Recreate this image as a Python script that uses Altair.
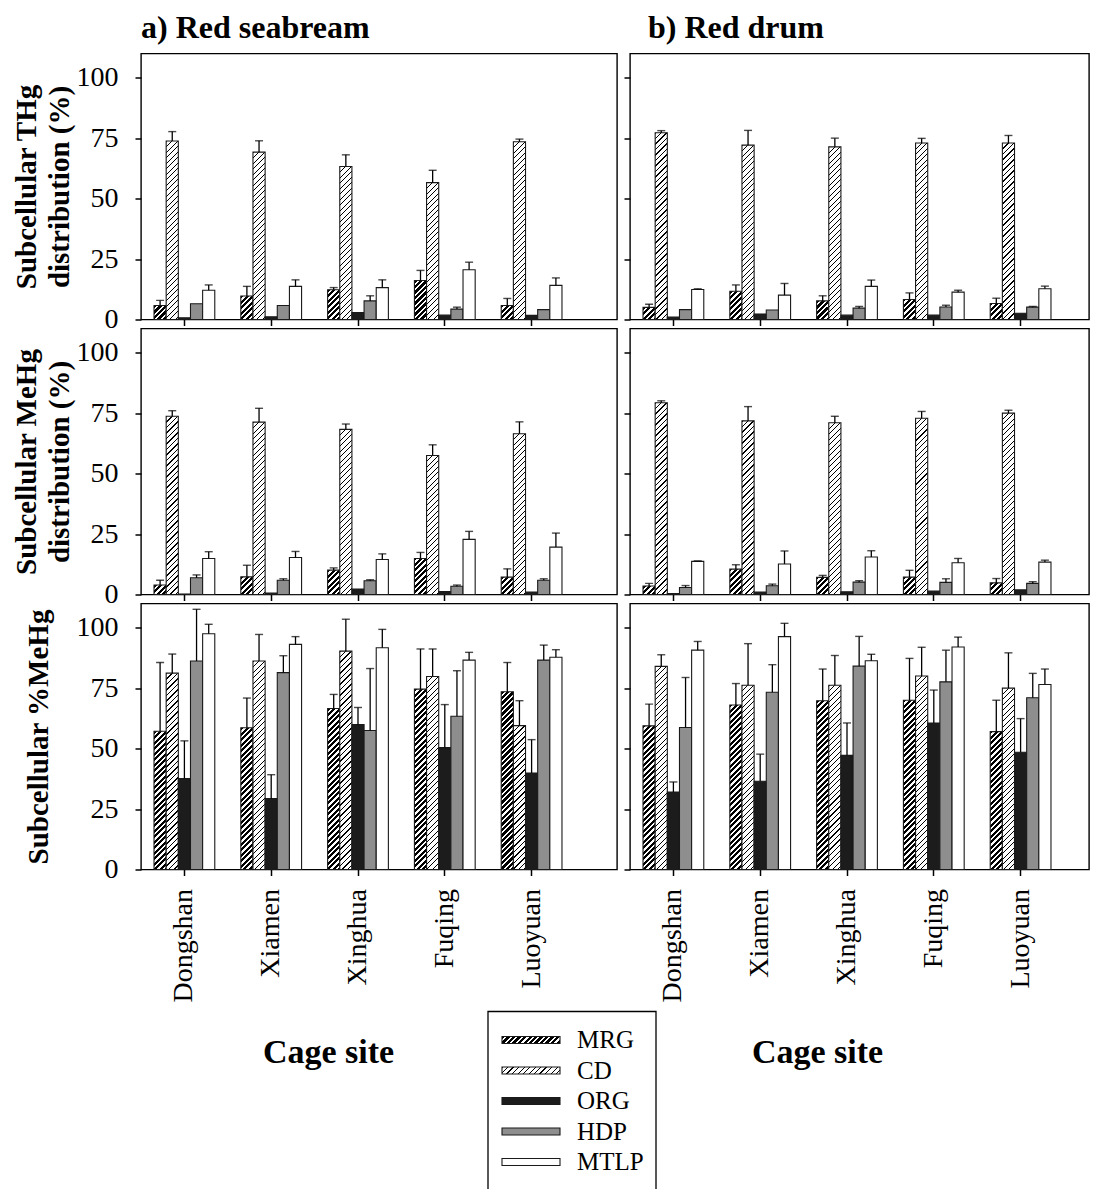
import altair as alt

SERIF = "Liberation Serif"

sites = ["Dongshan", "Xiamen", "Xinghua", "Fuqing", "Luoyuan"]
fractions = ["MRG", "CD", "ORG", "HDP", "MTLP"]

# a) Red seabream - subcellular THg distribution (%)
seabream_thg_mean = {
    "MRG": [5.8, 9.7, 12.3, 16.1, 5.8],
    "CD": [73.8, 69.2, 63.3, 56.6, 73.5],
    "ORG": [0.7, 1.1, 2.9, 1.8, 1.7],
    "HDP": [6.5, 5.8, 7.7, 4.3, 4.1],
    "MTLP": [12.1, 13.7, 13.2, 20.6, 14.1],
}
seabream_thg_sd = {
    "MRG": [2.1, 4.0, 0.9, 4.2, 2.9],
    "CD": [3.9, 4.7, 4.8, 5.1, 1.1],
    "ORG": [0, 0, 0, 0, 0],
    "HDP": [0, 0, 2.1, 0.8, 0],
    "MTLP": [2.2, 2.7, 3.2, 3.1, 3.1],
}
# b) Red drum - subcellular THg distribution (%)
drum_thg_mean = {
    "MRG": [5.0, 11.7, 7.7, 8.3, 6.6],
    "CD": [77.2, 72.1, 71.4, 73.0, 73.0],
    "ORG": [1.0, 2.3, 1.8, 1.8, 2.6],
    "HDP": [4.1, 3.9, 4.7, 5.2, 5.1],
    "MTLP": [12.4, 10.1, 13.7, 11.3, 12.7],
}
drum_thg_sd = {
    "MRG": [1.3, 2.6, 2.1, 2.7, 2.2],
    "CD": [0.9, 6.1, 3.6, 1.9, 3.1],
    "ORG": [0, 0, 0, 0, 0],
    "HDP": [0, 0, 0.7, 0.7, 0.3],
    "MTLP": [0.3, 4.8, 2.6, 0.8, 1.1],
}
# a) Red seabream - subcellular MeHg distribution (%)
seabream_mehg_mean = {
    "MRG": [3.9, 7.3, 10.1, 14.9, 7.2],
    "CD": [73.7, 71.3, 68.3, 57.5, 66.5],
    "ORG": [0.2, 0.6, 2.3, 1.2, 1.0],
    "HDP": [6.9, 5.9, 5.7, 3.4, 5.9],
    "MTLP": [14.9, 15.3, 14.5, 22.8, 19.6],
}
seabream_mehg_sd = {
    "MRG": [2.0, 4.8, 0.9, 2.5, 3.4],
    "CD": [2.3, 5.7, 2.2, 4.4, 4.9],
    "ORG": [0, 0, 0, 0, 0],
    "HDP": [1.2, 0.6, 0.4, 0.5, 0.6],
    "MTLP": [2.8, 2.5, 2.3, 3.3, 5.8],
}
# b) Red drum - subcellular MeHg distribution (%)
drum_mehg_mean = {
    "MRG": [3.5, 10.5, 7.1, 7.2, 4.8],
    "CD": [79.3, 71.8, 71.0, 72.9, 75.0],
    "ORG": [0.4, 1.0, 1.1, 1.4, 1.9],
    "HDP": [2.9, 3.6, 5.1, 5.0, 4.6],
    "MTLP": [13.7, 12.6, 15.5, 13.1, 13.4],
}
drum_mehg_sd = {
    "MRG": [1.1, 1.8, 0.8, 2.8, 1.8],
    "CD": [0.8, 5.9, 2.7, 2.8, 1.2],
    "ORG": [0, 0, 0, 0, 0],
    "HDP": [0.8, 0.7, 0.6, 1.5, 0.7],
    "MTLP": [0.2, 5.4, 2.6, 1.8, 0.8],
}
# a) Red seabream - subcellular %MeHg
seabream_pct_mean = {
    "MRG": [57.2, 58.6, 66.6, 74.6, 73.5],
    "CD": [81.2, 86.2, 90.3, 79.8, 59.5],
    "ORG": [37.6, 29.3, 59.9, 50.4, 39.9],
    "HDP": [86.2, 81.4, 57.5, 63.4, 86.6],
    "MTLP": [97.5, 93.1, 91.7, 86.6, 87.8],
}
seabream_pct_sd = {
    "MRG": [28.4, 12.3, 5.8, 16.6, 12.1],
    "CD": [7.9, 11.0, 13.2, 11.4, 10.3],
    "ORG": [15.6, 9.9, 7.1, 17.8, 13.8],
    "HDP": [21.4, 7.0, 25.6, 18.8, 6.2],
    "MTLP": [3.9, 3.2, 7.6, 3.2, 3.1],
}
# b) Red drum - subcellular %MeHg
drum_pct_mean = {
    "MRG": [59.4, 68.0, 69.8, 70.0, 57.0],
    "CD": [84.0, 76.2, 76.2, 80.0, 75.0],
    "ORG": [32.0, 36.5, 47.2, 60.6, 48.5],
    "HDP": [58.7, 73.3, 84.1, 77.6, 71.0],
    "MTLP": [90.7, 96.3, 86.3, 92.0, 76.5],
}
drum_pct_sd = {
    "MRG": [9.0, 8.9, 13.1, 17.3, 13.0],
    "CD": [4.8, 17.2, 12.3, 11.9, 14.6],
    "ORG": [4.2, 11.2, 13.4, 13.6, 13.9],
    "HDP": [20.7, 11.4, 12.3, 13.1, 10.1],
    "MTLP": [3.6, 5.5, 2.7, 4.1, 6.4],
}

# ---------------- layout / style ----------------
PANEL_H = 266
Y_MAX = 110
LEFT_W = 476
RIGHT_W = 459
STEP = 86.8
PAD_IN = 0.3
BAR_W = STEP * (1 - PAD_IN) / len(fractions)

SOLID = {"ORG": "#1c1c1c", "HDP": "#8e8e8e", "MTLP": "#ffffff"}
HATCH = {"MRG": (5.5, 0.55), "CD": (5.5, 0.22)}


def hatch(w, h, period, black):
    """diagonal '/' stripes as a striped linear gradient on the bar's box"""
    h = max(h, 0.3)
    L = w + h
    c = L / (w * w + h * h)
    stops = []
    s = 0.0
    while s < L:
        a = s / L
        b = min((s + period * black) / L, 1.0)
        e = min((s + period) / L, 1.0)
        stops += [
            {"offset": round(a, 4), "color": "#000000"},
            {"offset": round(b, 4), "color": "#000000"},
            {"offset": round(b, 4), "color": "#ffffff"},
            {"offset": round(e, 4), "color": "#ffffff"},
        ]
        s += period
    return {"gradient": "linear", "x1": 0, "y1": 0,
            "x2": round(w * c, 5), "y2": round(h * c, 5), "stops": stops}


def fill_for(frac, w, h):
    if frac in HATCH:
        return hatch(w, h, *HATCH[frac])
    return SOLID[frac]


def rows_for(means, sds):
    out = []
    for f in fractions:
        for s, v, e in zip(sites, means[f], sds[f]):
            out.append({"site": s, "fraction": f, "value": v, "sd": e,
                        "top": round(v + e, 2),
                        "grad": fill_for(f, BAR_W, v * PANEL_H / Y_MAX)})
    return out


def x_scale(width):
    n = len(sites)
    po = (width / STEP - (n - PAD_IN)) / 2
    outer = width - STEP * (n - PAD_IN)
    first = 0.5 * STEP - (1 - PAD_IN) / 2 * STEP
    return alt.Scale(paddingInner=PAD_IN, paddingOuter=po, align=first / outer)


def panel(means, sds, width, left, bottom, ytitle="", ytitle_x=0, title="", title_dx=0):
    base = alt.Chart(alt.Data(values=rows_for(means, sds)))
    if bottom:
        xaxis = alt.Axis(title="Cage site", labelAngle=-90, labelFont=SERIF, labelFontSize=28,
                         labelColor="#000", labelPadding=13, tickSize=6, tickWidth=1.5,
                         tickColor="#000", domain=False, titleFont=SERIF, titleFontSize=34,
                         titleFontWeight="bold", titleColor="#000", titleX=187, titleY=193,
                         titleBaseline="alphabetic")
    else:
        xaxis = alt.Axis(title="", labels=False, tickSize=6, tickWidth=1.5,
                         tickColor="#000", domain=False)
    if left:
        yaxis = alt.Axis(values=[0, 25, 50, 75, 100], title=ytitle, tickSize=6, tickWidth=1.5,
                         tickColor="#000", labelFont=SERIF, labelFontSize=28, labelColor="#000",
                         labelPadding=17, labelFlush=False, domain=False, grid=False,
                         titleFont=SERIF, titleFontSize=29, titleFontWeight="bold",
                         titleColor="#000", titleX=ytitle_x, titleBaseline="middle",
                         titleLineHeight=33)
    else:
        yaxis = alt.Axis(values=[0, 25, 50, 75, 100], title="", labels=False, tickSize=6,
                         tickWidth=1.5, tickColor="#000", domain=False, grid=False)
    X = alt.X("site:N", sort=sites, scale=x_scale(width), axis=xaxis)
    XO = alt.XOffset("fraction:N", sort=fractions,
                     scale=alt.Scale(paddingInner=0, paddingOuter=0))
    ys = alt.Scale(domain=[0, Y_MAX], nice=False, zero=True)
    bars = base.mark_bar(stroke="#1a1a1a", strokeWidth=1.1).encode(
        x=X, xOffset=XO,
        y=alt.Y("value:Q", scale=ys, axis=yaxis, stack=None),
        fill=alt.Fill("grad:N", scale=None),
    )
    errs = base.transform_filter("datum.sd > 0").mark_rule(color="#000", strokeWidth=1.3).encode(
        x=X, xOffset=XO,
        y=alt.Y("value:Q", scale=ys, axis=yaxis, stack=None),
        y2="top:Q",
    )
    caps = base.transform_filter("datum.sd > 0").mark_tick(color="#000", thickness=1.4, size=8).encode(
        x=X, xOffset=XO,
        y=alt.Y("top:Q", scale=ys, axis=yaxis, stack=None),
    )
    ch = alt.layer(bars, errs, caps).properties(width=width, height=PANEL_H)
    if title:
        ch = ch.properties(title=alt.TitleParams(
            title, anchor="start", frame="group", font=SERIF, fontSize=32,
            fontWeight="bold", color="#000", offset=-16.5, baseline="alphabetic", dx=title_dx))
    return ch


def spacer(w, h):
    return alt.Chart(alt.Data(values=[{"a": 1}])).mark_point(opacity=0).properties(
        width=w, height=h, view=alt.ViewBackground(strokeOpacity=0))


# legend box (drawn inside the left column, under the panels)
LEG_H = 185
BOX_X0, BOX_X1 = 347, 515
SW_X0, SW_X1, TXT_X = 361, 419, 436
LEG_STEP, LEG_FIRST, LEG_BAND = 30.5, 28.5, 7.0
leg_pi = 1 - LEG_BAND / LEG_STEP
leg_po = (LEG_H / LEG_STEP - (len(fractions) - leg_pi)) / 2
leg_outer = LEG_H - LEG_STEP * (len(fractions) - leg_pi)
leg_align = (LEG_FIRST - LEG_BAND / 2) / leg_outer
legend_rows = [{"fraction": f, "grad": fill_for(f, SW_X1 - SW_X0, LEG_BAND)} for f in fractions]
LY = alt.Y("fraction:N", sort=fractions, axis=None,
           scale=alt.Scale(paddingInner=leg_pi, paddingOuter=leg_po, align=leg_align))
leg_base = alt.Chart(alt.Data(values=legend_rows))
leg_box = alt.Chart(alt.Data(values=[{"a": 1}])).mark_rect(
    fillOpacity=0, stroke="#000", strokeWidth=1.3).encode(
    x=alt.value(BOX_X0), x2=alt.value(BOX_X1), y=alt.value(0), y2=alt.value(LEG_H))
leg_swatch = leg_base.mark_bar(stroke="#1a1a1a", strokeWidth=1.1).encode(
    y=LY, x=alt.value(SW_X0), x2=alt.value(SW_X1), fill=alt.Fill("grad:N", scale=None))
leg_text = leg_base.mark_text(align="left", baseline="middle", font=SERIF, fontSize=25,
                              color="#000").encode(y=LY, x=alt.value(TXT_X), text="fraction:N")
legend = alt.layer(leg_box, leg_swatch, leg_text).properties(
    width=LEFT_W, height=LEG_H, view=alt.ViewBackground(strokeOpacity=0))

tl = panel(seabream_thg_mean, seabream_thg_sd, LEFT_W, True, False,
           ["Subcellular THg", "distribution (%)"], -115, "a) Red seabream")
tr = panel(drum_thg_mean, drum_thg_sd, RIGHT_W, False, False, title="b) Red drum", title_dx=18)
ml = panel(seabream_mehg_mean, seabream_mehg_sd, LEFT_W, True, False,
           ["Subcellular MeHg", "distribution (%)"], -115)
mr = panel(drum_mehg_mean, drum_mehg_sd, RIGHT_W, False, False)
bl = panel(seabream_pct_mean, seabream_pct_sd, LEFT_W, True, True, "Subcellular %MeHg", -103)
br = panel(drum_pct_mean, drum_pct_sd, RIGHT_W, False, True)

chart = alt.concat(
    tl, tr, ml, mr, bl, br,
    spacer(LEFT_W, 124), spacer(RIGHT_W, 124),
    legend, spacer(RIGHT_W, LEG_H),
    columns=2,
).properties(
    spacing={"row": 9, "column": 13},
    bounds="flush",
    align={"row": "each", "column": "each"},
    padding={"left": 3, "top": 2.5, "right": 0, "bottom": 5},
).configure(font=SERIF).configure_view(stroke="#000", strokeWidth=1.4)

chart.save("out.html", embed_options={"renderer": "svg", "actions": False})
